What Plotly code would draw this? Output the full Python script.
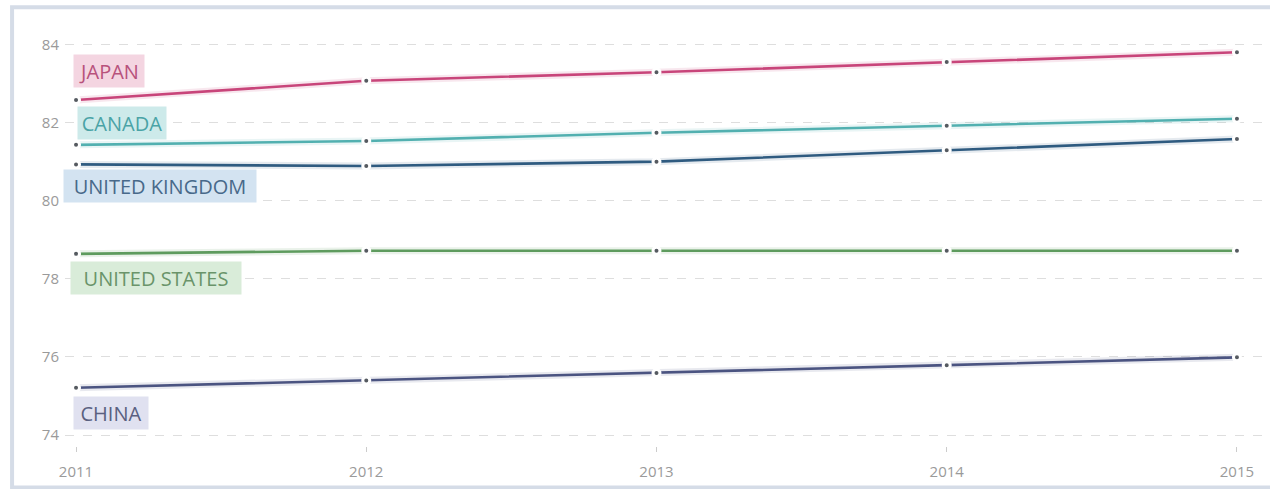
import plotly.graph_objects as go

# Life expectancy at birth (years), 2011-2015
years = [2011, 2012, 2013, 2014, 2015]
japan = [82.58, 83.07, 83.29, 83.55, 83.80]
canada = [81.43, 81.53, 81.74, 81.92, 82.10]
united_kingdom = [80.93, 80.89, 81.00, 81.29, 81.58]
united_states = [78.64, 78.72, 78.72, 78.72, 78.72]
china = [75.21, 75.40, 75.59, 75.79, 75.99]
y_ticks = [74, 76, 78, 80, 82, 84]

series = [
    # name, values, line colour, label text colour, label background, label y (data units)
    ("JAPAN", japan, "#c8457a", "#b8527c", "#f4d5e1", 83.32),
    ("CANADA", canada, "#52b0b0", "#4aa3a6", "#cdeaea", 82.0),
    ("UNITED KINGDOM", united_kingdom, "#2f5b80", "#48698a", "#d3e3f1", 80.38),
    ("UNITED STATES", united_states, "#5e9b5e", "#6a946a", "#d9ecd9", 78.03),
    ("CHINA", china, "#4b5481", "#5a6080", "#e0e1f0", 74.56),
]
# horizontal nudge and box width (px) for each series tag
label_shift = {"JAPAN": -3, "CANADA": 1, "UNITED KINGDOM": -13, "UNITED STATES": -6, "CHINA": -3}
label_width = {"JAPAN": 64, "CANADA": 82, "UNITED KINGDOM": 186, "UNITED STATES": 164, "CHINA": 68}

fig = go.Figure()

for name, vals, color, tcolor, bg, ly in series:
    # soft halo under each line
    fig.add_trace(go.Scatter(
        x=years, y=vals, mode="lines",
        line=dict(color=color, width=7), opacity=0.12,
        hoverinfo="skip", showlegend=False,
    ))
    fig.add_trace(go.Scatter(
        x=years, y=vals, mode="lines+markers", name=name,
        line=dict(color=color, width=2.6),
        marker=dict(size=7, color="#555a60", line=dict(color="white", width=3)),
        showlegend=False,
    ))
    fig.add_annotation(
        x=years[0], y=ly, xref="x", yref="y",
        text=name, showarrow=False,
        xanchor="left", yanchor="middle", xshift=label_shift[name],
        width=label_width[name], height=26, align="center",
        font=dict(family="Open Sans", size=20, color=tcolor),
        bgcolor=bg, borderpad=3,
    )

# frame around the chart (open on the right, running past the edge)
fig.add_shape(type="rect", xref="paper", yref="paper",
              x0=-0.044, x1=1.08, y0=-0.1, y1=1.06,
              line=dict(color="#d5dce7", width=4), layer="below")

fig.update_layout(
    width=1270, height=489,
    margin=dict(l=65, r=2, t=32, b=43),
    paper_bgcolor="white", plot_bgcolor="white",
    font=dict(family="Open Sans", size=15, color="#9a9a9a"),
    xaxis=dict(
        range=[2010.962, 2015.107],
        tickvals=years, ticktext=[str(y) for y in years],
        showgrid=False, zeroline=False, showline=False,
        ticks="outside", ticklen=5, tickcolor="#cccccc", tickwidth=1,
        ticklabelstandoff=7,
        tickfont=dict(size=15, color="#9a9a9a"),
    ),
    yaxis=dict(
        range=[73.72, 84.32],
        tickvals=y_ticks, ticktext=[str(v) for v in y_ticks],
        showgrid=True, gridcolor="#dedede", griddash="dash", gridwidth=1,
        zeroline=False, showline=False,
        tickfont=dict(size=15, color="#9a9a9a"),
        ticklabelstandoff=5,
    ),
)

fig.write_html("out.html")
